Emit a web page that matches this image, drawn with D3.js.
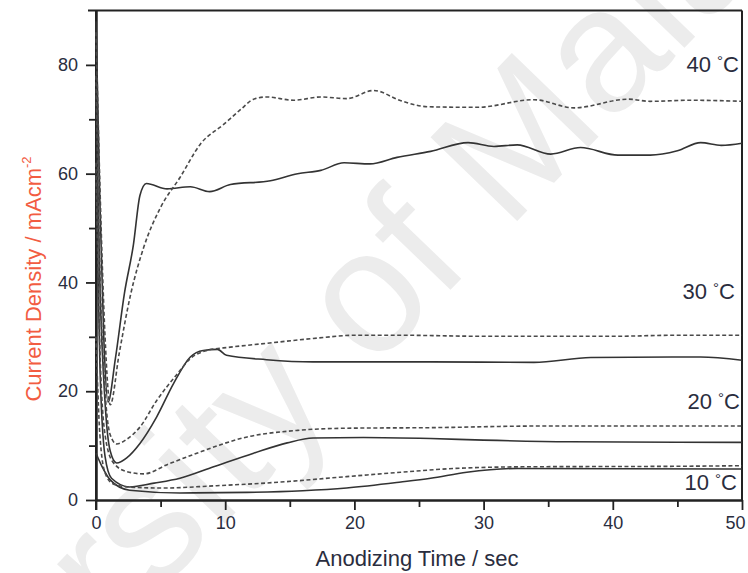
<!DOCTYPE html>
<html>
<head>
<meta charset="utf-8">
<script src="https://cdn.jsdelivr.net/npm/d3@7"></script>
<style>
  html, body { margin: 0; padding: 0; background: #fff; }
  svg { display: block; font-family: "Liberation Sans", Arial, sans-serif; }
</style>
</head>
<body>
<svg id="chart" width="748" height="573"></svg>
<script>
// ---- data (time in s, current density in mA/cm^2) ----
const xMajorTicks = [0, 10, 20, 30, 40, 50];
const xMinorTicks = [5, 15, 25, 35, 45];
const yMajorTicks = [0, 20, 40, 60, 80];
const yMinorTicks = [10, 30, 50, 70];

const s40solid = [[0,88],[0.3,55],[0.6,30],[0.93,18],[1.5,26],[2.2,38],[2.9,47],[3.4,56],[3.9,58.2],[5.5,57.2],[7.3,57.6],[8.8,56.7],[10.4,58],[13.5,58.7],[15.6,60],[17.4,60.6],[19.2,62],[21.2,61.8],[23.3,63],[25.9,64.1],[28.8,65.7],[30.8,65],[32.6,65.3],[35.2,63.6],[37.5,64.8],[40.4,63.4],[42.9,63.4],[45,64.2],[46.8,65.7],[48.4,65.2],[50,65.6]];
const s40dash  = [[0,86],[0.3,58],[0.7,30],[1.1,17.5],[1.8,27],[2.7,38],[3.7,46.5],[5,53.8],[6.5,59.3],[8.1,65.5],[9.9,69.1],[11.2,71.8],[12.2,73.7],[13.2,74.1],[15.3,73.5],[17.4,74.1],[19.4,73.8],[21.5,75.3],[23.6,73.4],[25.7,72.3],[29.5,72.2],[33.9,73.6],[37,72.1],[41.2,73.7],[42.9,73.3],[46,73.5],[50,73.3]];
const s30solid = [[0,75],[0.3,40],[0.7,18],[1.1,9],[1.6,6.8],[2.4,7.8],[3.4,10.4],[4.7,15.3],[6,21.4],[7.3,26.3],[8.3,27.5],[9.4,27.7],[10.1,26.6],[13.2,25.8],[16.8,25.4],[22,25.4],[25.9,25.4],[33.9,25.3],[38.3,26.2],[46.8,26.3],[50,25.7]];
const s30dash  = [[0,78],[0.3,42],[0.7,20],[1.1,12],[1.6,10.3],[2.4,11.2],[3.4,13.4],[4.7,18.3],[6.3,23.2],[7.3,26],[8.6,27.5],[10.4,28.1],[13.2,28.8],[16.8,29.7],[20.2,30.3],[23.3,30.3],[30,30.1],[40,30.1],[45,30.3],[50,30.3]];
const s20solid = [[0,60],[0.3,25],[0.7,8],[1.2,4],[2.6,2.4],[4.5,3.1],[6.5,4],[9.1,6.1],[12.2,8.6],[14.8,10.5],[16.8,11.4],[20.7,11.5],[25.9,11.3],[30,11],[36.7,10.7],[50,10.6]];
const s20dash  = [[0,62],[0.3,28],[0.7,12],[1.3,7],[2.4,5.2],[3.7,4.8],[5.5,6.5],[7.8,8.6],[11.7,11.6],[15.6,12.8],[19.4,13.2],[25.9,13.3],[34.4,13.6],[50,13.6]];
const s10solid = [[0,8.6],[0.5,6],[1.1,3.7],[2.6,1.8],[6.5,1.3],[11.7,1.4],[16,1.7],[19.4,2.2],[23.6,3.3],[25.9,4],[28.7,5.1],[32.6,5.8],[50,5.7]];
const s10dash  = [[0,30],[0.3,12],[0.7,5],[1.3,3],[2.5,2.4],[5.2,2.2],[9.1,2.6],[14.3,3.3],[19.4,4.3],[23.6,5.1],[27.7,5.8],[33,6.1],[45,6.2],[50,6.3]];

const tempLabels = ["40", "30", "20", "10"];
const tempLabelY = [72, 299, 409, 490];   // baseline pixel positions of labels
const tempLabelX = [739, 735, 740, 737];

const xTitle = "Anodizing Time / sec";
const yTitle = "Current Density / mAcm";

// ---- drawing ----
const svg = d3.select("#chart");

// watermark
svg.append("text")
  .attr("transform", "translate(352,392) rotate(-46)")
  .attr("text-anchor", "middle")
  .attr("font-size", 175)
  .attr("fill", "#ececec")
  .text("University of Malaya");

const x = d3.scaleLinear().domain([0, 50]).range([96, 742]);
const y = d3.scaleLinear().domain([0, 90]).range([500, 10.5]);

const axisColor = "#222";

// frame: top and right borders
svg.append("line").attr("x1", 88).attr("x2", x(50)).attr("y1", y(90)).attr("y2", y(90))
  .attr("stroke", axisColor).attr("stroke-width", 2);
svg.append("line").attr("x1", x(50)).attr("x2", x(50)).attr("y1", y(90)).attr("y2", y(0))
  .attr("stroke", axisColor).attr("stroke-width", 2);

// axes
function styleAxis(g) {
  g.selectAll("path.domain").attr("stroke", axisColor).attr("stroke-width", 2);
  g.selectAll(".tick line").attr("stroke", axisColor).attr("stroke-width", 1.8);
  g.selectAll(".tick text").attr("fill", "#2a2d3e").attr("font-size", 18)
    .attr("font-family", "'Liberation Sans', Arial, sans-serif");
}
const gxMinor = svg.append("g").attr("transform", `translate(0,${y(0)})`)
  .call(d3.axisBottom(x).tickValues(xMinorTicks).tickSize(7).tickSizeOuter(0).tickFormat(""));
styleAxis(gxMinor);
const gx = svg.append("g").attr("transform", `translate(0,${y(0)})`)
  .call(d3.axisBottom(x).tickValues(xMajorTicks).tickSize(10).tickSizeOuter(0).tickPadding(6).tickFormat(d3.format("d")));
styleAxis(gx);
gx.selectAll(".tick text").filter(d => d === 50).attr("dx", -7);
const gyMinor = svg.append("g").attr("transform", `translate(${x(0)},0)`)
  .call(d3.axisLeft(y).tickValues(yMinorTicks).tickSize(7).tickSizeOuter(0).tickFormat(""));
styleAxis(gyMinor);
const gy = svg.append("g").attr("transform", `translate(${x(0)},0)`)
  .call(d3.axisLeft(y).tickValues(yMajorTicks).tickSize(10).tickSizeOuter(0).tickPadding(8).tickFormat(d3.format("d")));
styleAxis(gy);
// extend y axis line to top of frame
svg.append("line").attr("x1", x(0)).attr("x2", x(0)).attr("y1", y(90)).attr("y2", y(0) + 10)
  .attr("stroke", axisColor).attr("stroke-width", 2);

// curves
const line = d3.line().x(d => x(d[0])).y(d => y(d[1])).curve(d3.curveMonotoneX);
const series = [
  { data: s40solid, dash: null },
  { data: s40dash,  dash: "4,2.5" },
  { data: s30solid, dash: null },
  { data: s30dash,  dash: "4,2.5" },
  { data: s20solid, dash: null },
  { data: s20dash,  dash: "4,2.5" },
  { data: s10solid, dash: null },
  { data: s10dash,  dash: "4,2.5" }
];
series.forEach(s => {
  svg.append("path")
    .attr("d", line(s.data))
    .attr("fill", "none")
    .attr("stroke", s.dash ? "#4a4a4a" : "#333")
    .attr("stroke-width", 1.6)
    .attr("stroke-dasharray", s.dash);
});

// temperature labels
tempLabels.forEach((t, i) => {
  const tx = svg.append("text")
    .attr("x", tempLabelX[i]).attr("y", tempLabelY[i])
    .attr("text-anchor", "end")
    .attr("font-size", 22)
    .attr("fill", "#2a2d3e");
  tx.append("tspan").text(t + " ");
  tx.append("tspan").attr("font-size", 15).attr("dy", -6).text("°");
  tx.append("tspan").attr("dy", 6).text("C");
});

// axis titles
svg.append("text")
  .attr("x", 417).attr("y", 566)
  .attr("text-anchor", "middle")
  .attr("font-size", 22)
  .attr("fill", "#2a2d3e")
  .text(xTitle);

const yt = svg.append("text")
  .attr("transform", "translate(41,279) rotate(-90)")
  .attr("text-anchor", "middle")
  .attr("font-size", 22)
  .attr("fill", "#f25c42");
yt.append("tspan").text(yTitle);
yt.append("tspan").attr("font-size", 13).attr("dy", -10).text("-2");
</script>
</body>
</html>
